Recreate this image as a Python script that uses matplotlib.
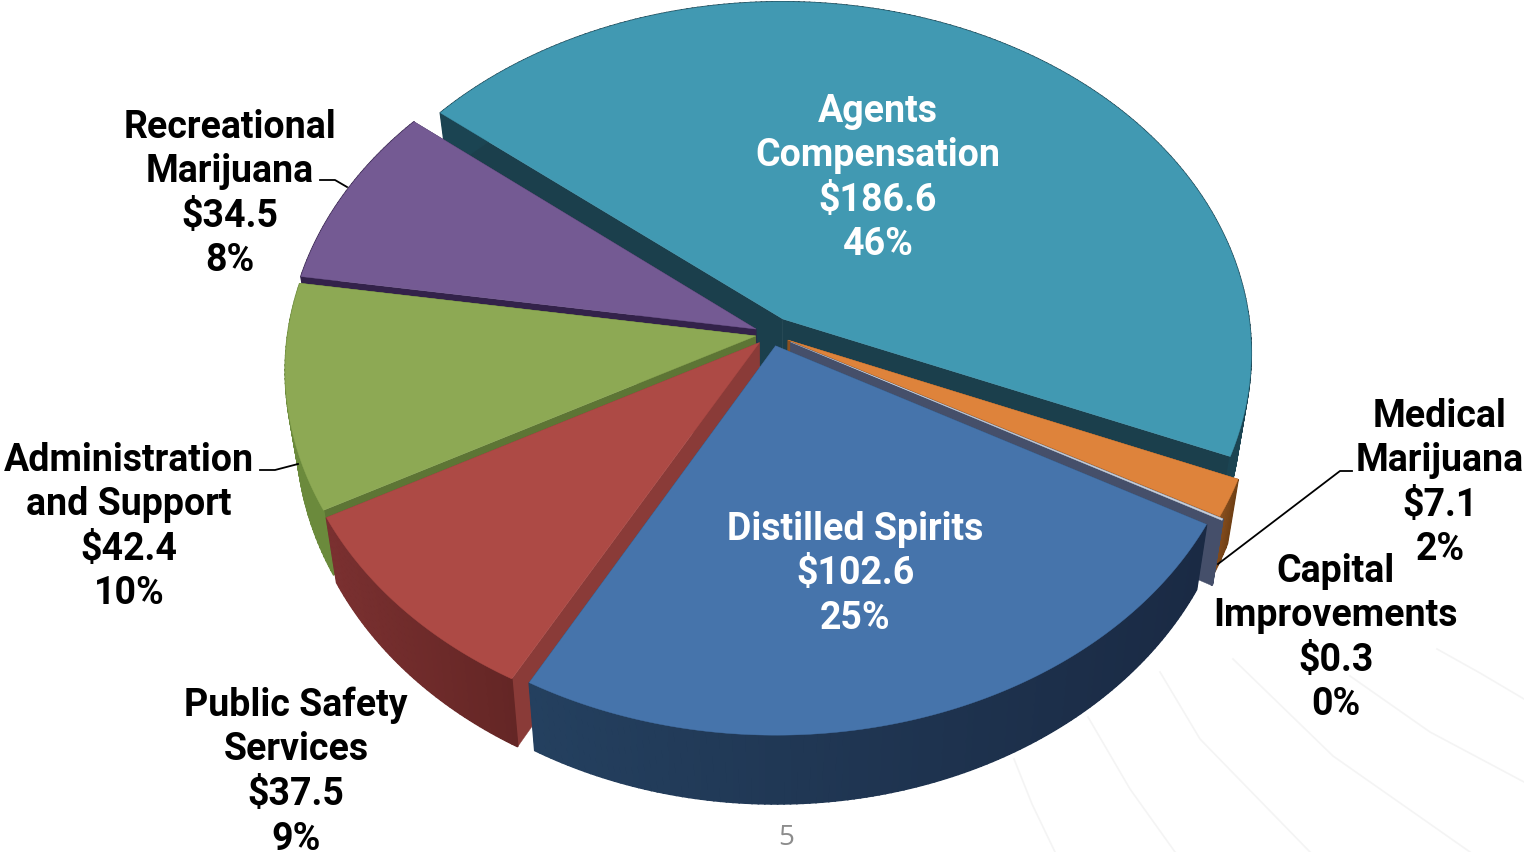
import numpy as np
from matplotlib import pyplot as plt
from matplotlib.colors import to_rgb

# Data
categories = ["Agents\nCompensation", "Medical\nMarijuana", "Capital\nImprovements", "Distilled Spirits",
              "Public Safety\nServices", "Administration\nand Support", "Recreational\nMarijuana"]
values = [186.6, 7.1, 0.3, 102.6, 37.5, 42.4, 34.5]
percents = [46, 2, 0, 25, 9, 10, 8]

# Slice styles
explode = [0.05, 0.04, 0.048, 0.035, 0.035, 0.033, 0.035]
top_colors = ["#4199B2", "#DE833B", "#C8D0DC", "#4674AB", "#AD4A45", "#8DA954", "#745A93"]
cut_colors = ["#1B3F4C", "#8A5020", "#454F6A", "#24405F", "#8A3B38", "#5D7535", "#33224A"]
wall_left = ["#1B4452", "#8A5020", "#454F6A", "#24405F", "#7A3030", "#6B8A3C", "#33224A"]
wall_right = ["#1B4452", "#6E3F14", "#454F6A", "#1A2A44", "#642625", "#6B8A3C", "#33224A"]
text_colors = ["white", "black", "black", "white", "black", "black", "black"]
label_x = [878, 1440, 1336, 855, 296, 129, 230]
label_y = [178, 483, 638, 574, 772, 527, 194]

start_angle = 141.0
cx, cy = 771, 335
R, Ry = 468, 350
k = 0.095
depth = 62
taper = 0.977  # bottom of the pie is a bit narrower


def project(u, v):
    s = 1 / (1 + k * v)
    return cx + R * u * s, cy - Ry * v * s, s


def lower(x, y, s):
    return cx + (x - cx) * taper, y + depth * s


fig = plt.figure(figsize=(15.24, 8.53), dpi=100)
ax = fig.add_axes([0, 0, 1, 1])
ax.set_xlim(0, 1524)
ax.set_ylim(853, 0)
ax.axis("off")

# Faint rays of the slide background
rays = [([1014, 1032, 1055], [760, 805, 853]),
        ([1088, 1130, 1175], [718, 790, 853]),
        ([1160, 1200, 1310], [673, 740, 853]),
        ([1233, 1333, 1470], [660, 757, 853]),
        ([1350, 1430, 1524], [677, 733, 783]),
        ([1437, 1480, 1524], [650, 674, 700])]
for rx, ry in rays:
    ax.plot(rx, ry, color="#F4F4F4", lw=1.2, zorder=0)

# Angles of every slice, clockwise from the start
total = sum(values)
ends = start_angle - np.cumsum(values) / total * 360
starts = np.r_[start_angle, ends[:-1]]

# Back slices first, front slices last
mids = (starts + ends) / 2
order = np.argsort(-np.sin(np.radians(mids)))

for i in order:
    t0, t1 = np.radians(starts[i]), np.radians(ends[i])
    m = np.radians(mids[i])
    ox, oy = explode[i] * np.cos(m), explode[i] * np.sin(m)
    th = np.linspace(t0, t1, max(int(abs(t1 - t0) * 80), 4))
    x, y, s = project(ox + np.cos(th), oy + np.sin(th))
    xa, ya, sa = project(ox, oy)
    xb, yb = lower(x, y, s)
    xab, yab = lower(xa, ya, sa)

    # cut faces
    for e in [0, -1]:
        ax.fill([xa, x[e], xb[e], xab], [ya, y[e], yb[e], yab], color=cut_colors[i], lw=0.3, zorder=1)

    # outer wall: solid base, then shaded strips left to right
    c0, c1 = np.array(to_rgb(wall_left[i])), np.array(to_rgb(wall_right[i]))
    ax.fill(np.r_[x, xb[::-1]], np.r_[y, yb[::-1]], color=(c0 + c1) / 2, lw=0.3, zorder=1)
    lo, hi = x.min(), x.max()
    for j in range(len(th) - 1):
        f = ((x[j] + x[j + 1]) / 2 - lo) / max(hi - lo, 1)
        ax.fill([x[j], x[j + 1], xb[j + 1], xb[j]], [y[j], y[j + 1], yb[j + 1], yb[j]],
                color=c0 + (c1 - c0) * f, lw=1.2, zorder=1)

    # top face
    ax.fill(np.r_[xa, x], np.r_[ya, y], color=top_colors[i], lw=0.3, zorder=1)

# Leader lines
leaders = [([320, 335, 347], [181, 181, 188]),
           ([260, 275, 298], [471, 471, 465]),
           ([1352, 1340, 1218], [472, 472, 565])]
for lx, ly in leaders:
    ax.plot(lx, ly, color="black", lw=1.3, zorder=3)

# Labels
for i, name in enumerate(categories):
    ax.text(label_x[i], label_y[i], f"{name}\n${values[i]}\n{percents[i]}%",
            ha="center", va="center", color=text_colors[i], family="Roboto",
            weight="bold", fontsize=27, linespacing=1.26, zorder=4)

ax.text(786, 838, "5", ha="center", va="center", color="#8C8C8C", family="Open Sans", fontsize=20, zorder=4)

fig.savefig("out.png", dpi=100)
